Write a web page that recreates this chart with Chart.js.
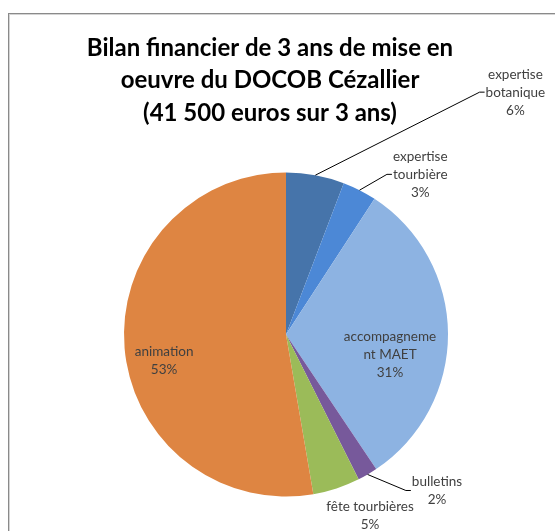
<!DOCTYPE html>
<html><head><meta charset="utf-8">
<script src="https://cdn.jsdelivr.net/npm/chart.js@4"></script>
<style>
html,body{margin:0;padding:0;background:#fff;overflow:hidden;width:555px;height:531px;}
#frame{position:absolute;left:8px;top:13px;width:600px;height:600px;border:1px solid #8a8a8a;box-shadow:inset 1px 1px 0 #d4d4d4;}
canvas{position:absolute;left:0;top:0;}
</style></head><body>
<div id="frame"></div>
<canvas id="c" width="555" height="531"></canvas>
<script>
// ---- data ----
const categories = ['expertise botanique', 'expertise tourbière', 'accompagnement MAET', 'bulletins', 'fête tourbières', 'animation'];
const percentages = [5.8, 3.4, 31.4, 2.0, 4.7, 52.7];
const labelLines = [['expertise', 'botanique'], ['expertise', 'tourbière'], ['accompagneme', 'nt MAET'], ['bulletins'], ['fête tourbières'], ['animation']];
const titleLines = ['Bilan financier de 3 ans de mise en', 'oeuvre du DOCOB Cézallier', '(41 500 euros sur 3 ans)'];

// ---- styles ----
const colors = ['#4674AA', '#4C88D6', '#8DB3E2', '#77599B', '#9BBB59', '#DE8542'];
// label placement: angular fraction of the slice, distance in radii, leader line
const placement = [
  {frac: 2.08, dist: 2.06, leader: true},
  {frac: 1.56, dist: 1.29, leader: true},
  {frac: 0.60, dist: 0.654, leader: false},
  {frac: -1.42, dist: 1.34, leader: true},
  {frac: 0.10, dist: 1.23, leader: false},
  {frac: 0.461, dist: 0.77, leader: false}
];

const labelPlugin = {
  id: 'labels',
  afterDatasetsDraw(chart) {
    const ctx = chart.ctx;
    const meta = chart.getDatasetMeta(0);
    const data = chart.data.datasets[0].data;
    const total = data.reduce((a, b) => a + b, 0);
    ctx.save();
    // title
    ctx.fillStyle = '#000';
    ctx.font = 'bold 24px Lato';
    ctx.textAlign = 'center';
    ctx.textBaseline = 'middle';
    titleLines.forEach((t, i) => ctx.fillText(t, 270, 48 + i * 32.5));
    // labels
    ctx.font = '13.5px Lato';
    const lh = 18;
    meta.data.forEach((arc, i) => {
      const p = arc.getProps(['x', 'y', 'startAngle', 'endAngle', 'outerRadius'], true);
      const span = p.endAngle - p.startAngle;
      const pl = placement[i];
      const a = p.startAngle + pl.frac * span;
      const lx = p.x + Math.cos(a) * pl.dist * p.outerRadius;
      const ly = p.y + Math.sin(a) * pl.dist * p.outerRadius;
      const lines = labelLines[i].concat([Math.round(data[i] / total * 100) + '%']);
      const maxW = Math.max(...lines.map(l => ctx.measureText(l).width));
      ctx.fillStyle = '#404040';
      const y0 = ly - (lines.length - 1) * lh / 2;
      lines.forEach((l, k) => ctx.fillText(l, lx, y0 + k * lh));
      if (pl.leader) {
        const am = p.startAngle + 0.5 * span;
        const sx = p.x + Math.cos(am) * p.outerRadius;
        const sy = p.y + Math.sin(am) * p.outerRadius;
        const left = lx - maxW / 2 - 1;
        ctx.strokeStyle = '#000';
        ctx.lineWidth = 1;
        ctx.beginPath();
        ctx.moveTo(sx, sy);
        ctx.lineTo(left - 5, ly);
        ctx.lineTo(left, ly);
        ctx.stroke();
      }
    });
    ctx.restore();
  }
};

function build() {
  new Chart(document.getElementById('c'), {
    type: 'pie',
    data: {
      labels: categories,
      datasets: [{data: percentages, backgroundColor: colors, borderWidth: 0}]
    },
    options: {
      responsive: false,
      animation: false,
      layout: {padding: {top: 172, bottom: 34, left: 124, right: 107}},
      plugins: {legend: {display: false}, tooltip: {enabled: false}, title: {display: false}}
    },
    plugins: [labelPlugin]
  });
}
Promise.all([document.fonts.load('bold 24px Lato'), document.fonts.load('13.5px Lato')]).then(build, build);
</script>
</body></html>
